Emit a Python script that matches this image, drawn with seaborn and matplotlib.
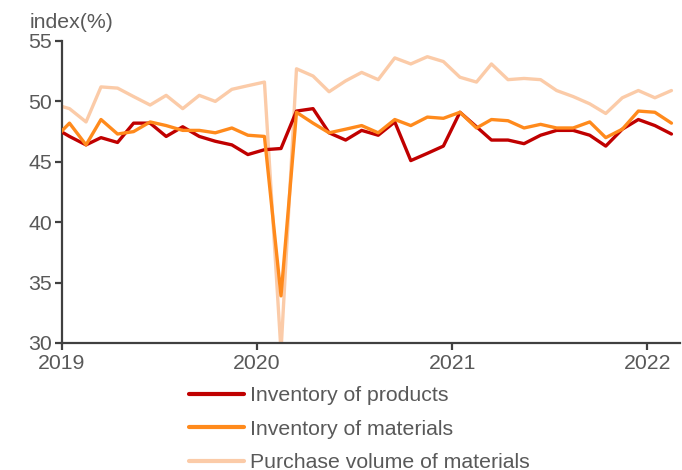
import pandas as pd
import numpy as np
import matplotlib
matplotlib.use("Agg")
import matplotlib.pyplot as plt
import matplotlib.dates as mdates
import seaborn as sns

# ===============================
# DATOS (indices mensuales, dic 2018 - feb 2022)
# ===============================

months = pd.date_range("2018-12-01", periods=39, freq="MS") + pd.Timedelta(days=14)

products = [47.9, 47.1, 46.4, 47.0, 46.6, 48.2, 48.2, 47.1, 47.9, 47.1, 46.7, 46.4, 45.6,
            46.0, 46.1, 49.2, 49.4, 47.4, 46.8, 47.6, 47.2, 48.3, 45.1, 45.7, 46.3,
            49.1, 47.9, 46.8, 46.8, 46.5, 47.2, 47.6, 47.6, 47.2, 46.3, 47.7, 48.5,
            48.0, 47.3]

materials = [46.8, 48.2, 46.4, 48.5, 47.3, 47.5, 48.3, 48.0, 47.6, 47.6, 47.4, 47.8, 47.2,
             47.1, 33.9, 49.1, 48.2, 47.4, 47.7, 48.0, 47.4, 48.5, 48.0, 48.7, 48.6,
             49.1, 47.8, 48.5, 48.4, 47.8, 48.1, 47.8, 47.8, 48.3, 47.0, 47.7, 49.2,
             49.1, 48.2]

purchase = [49.8, 49.4, 48.3, 51.2, 51.1, 50.4, 49.7, 50.5, 49.4, 50.5, 50.0, 51.0, 51.3,
            51.6, 29.3, 52.7, 52.1, 50.8, 51.7, 52.4, 51.8, 53.6, 53.1, 53.7, 53.3,
            52.0, 51.6, 53.1, 51.8, 51.9, 51.8, 50.9, 50.4, 49.8, 49.0, 50.3, 50.9,
            50.3, 50.9]

labels = ["Inventory of products", "Inventory of materials", "Purchase volume of materials"]
colors = ["#C00000", "#FF8A1C", "#FBCBA8"]

df = pd.DataFrame({"date": months, labels[0]: products,
                   labels[1]: materials, labels[2]: purchase})

# ===============================
# GRAFICO
# ===============================

sns.set_theme(style="white")
plt.rcParams["font.family"] = ["Liberation Sans", "DejaVu Sans"]

text_col = "#595959"
axis_col = "#404040"

fig = plt.figure(figsize=(6.82, 4.70), dpi=100)
ax = fig.add_axes([62 / 682, 1 - 343 / 470, 618 / 682, 302 / 470])

zorders = [3, 4, 2]
for lab, col, z in zip(labels, colors, zorders):
    sns.lineplot(data=df, x="date", y=lab, color=col, linewidth=2.4,
                 label=lab, ax=ax, zorder=z)

ax.set_ylim(30, 55)
ax.set_yticks([30, 35, 40, 45, 50, 55])
ax.set_xlim(pd.Timestamp("2019-01-01"), pd.Timestamp("2022-03-03"))
ax.xaxis.set_major_locator(mdates.YearLocator())
ax.xaxis.set_major_formatter(mdates.DateFormatter("%Y"))

ax.set_xlabel("")
ax.set_ylabel("")

for side in ["top", "right"]:
    ax.spines[side].set_visible(False)
for side in ["left", "bottom"]:
    ax.spines[side].set_color(axis_col)
    ax.spines[side].set_linewidth(1.6)

ax.tick_params(axis="both", which="major", direction="out", length=5, width=1.6,
               color=axis_col, labelcolor=text_col, labelsize=15.3, left=True, bottom=True)
ax.tick_params(axis="y", pad=2)
ax.tick_params(axis="x", pad=3)

fig.text(30 / 682, 1 - 22 / 470, "index(%)", fontsize=15.3, color=text_col,
         ha="left", va="center")

ax.get_legend().remove()
handles, labs = ax.get_legend_handles_labels()
leg = fig.legend([handles[labs.index(l)] for l in labels], labels,
                 loc="upper left", bbox_to_anchor=(189 / 682, 1 - 386 / 470),
                 frameon=False, fontsize=15.3, labelcolor=text_col,
                 handlelength=2.6, handletextpad=0.25, labelspacing=0.69,
                 borderaxespad=0, borderpad=0)
for line in leg.get_lines():
    line.set_linewidth(3)

fig.savefig("out.png", dpi=100)
